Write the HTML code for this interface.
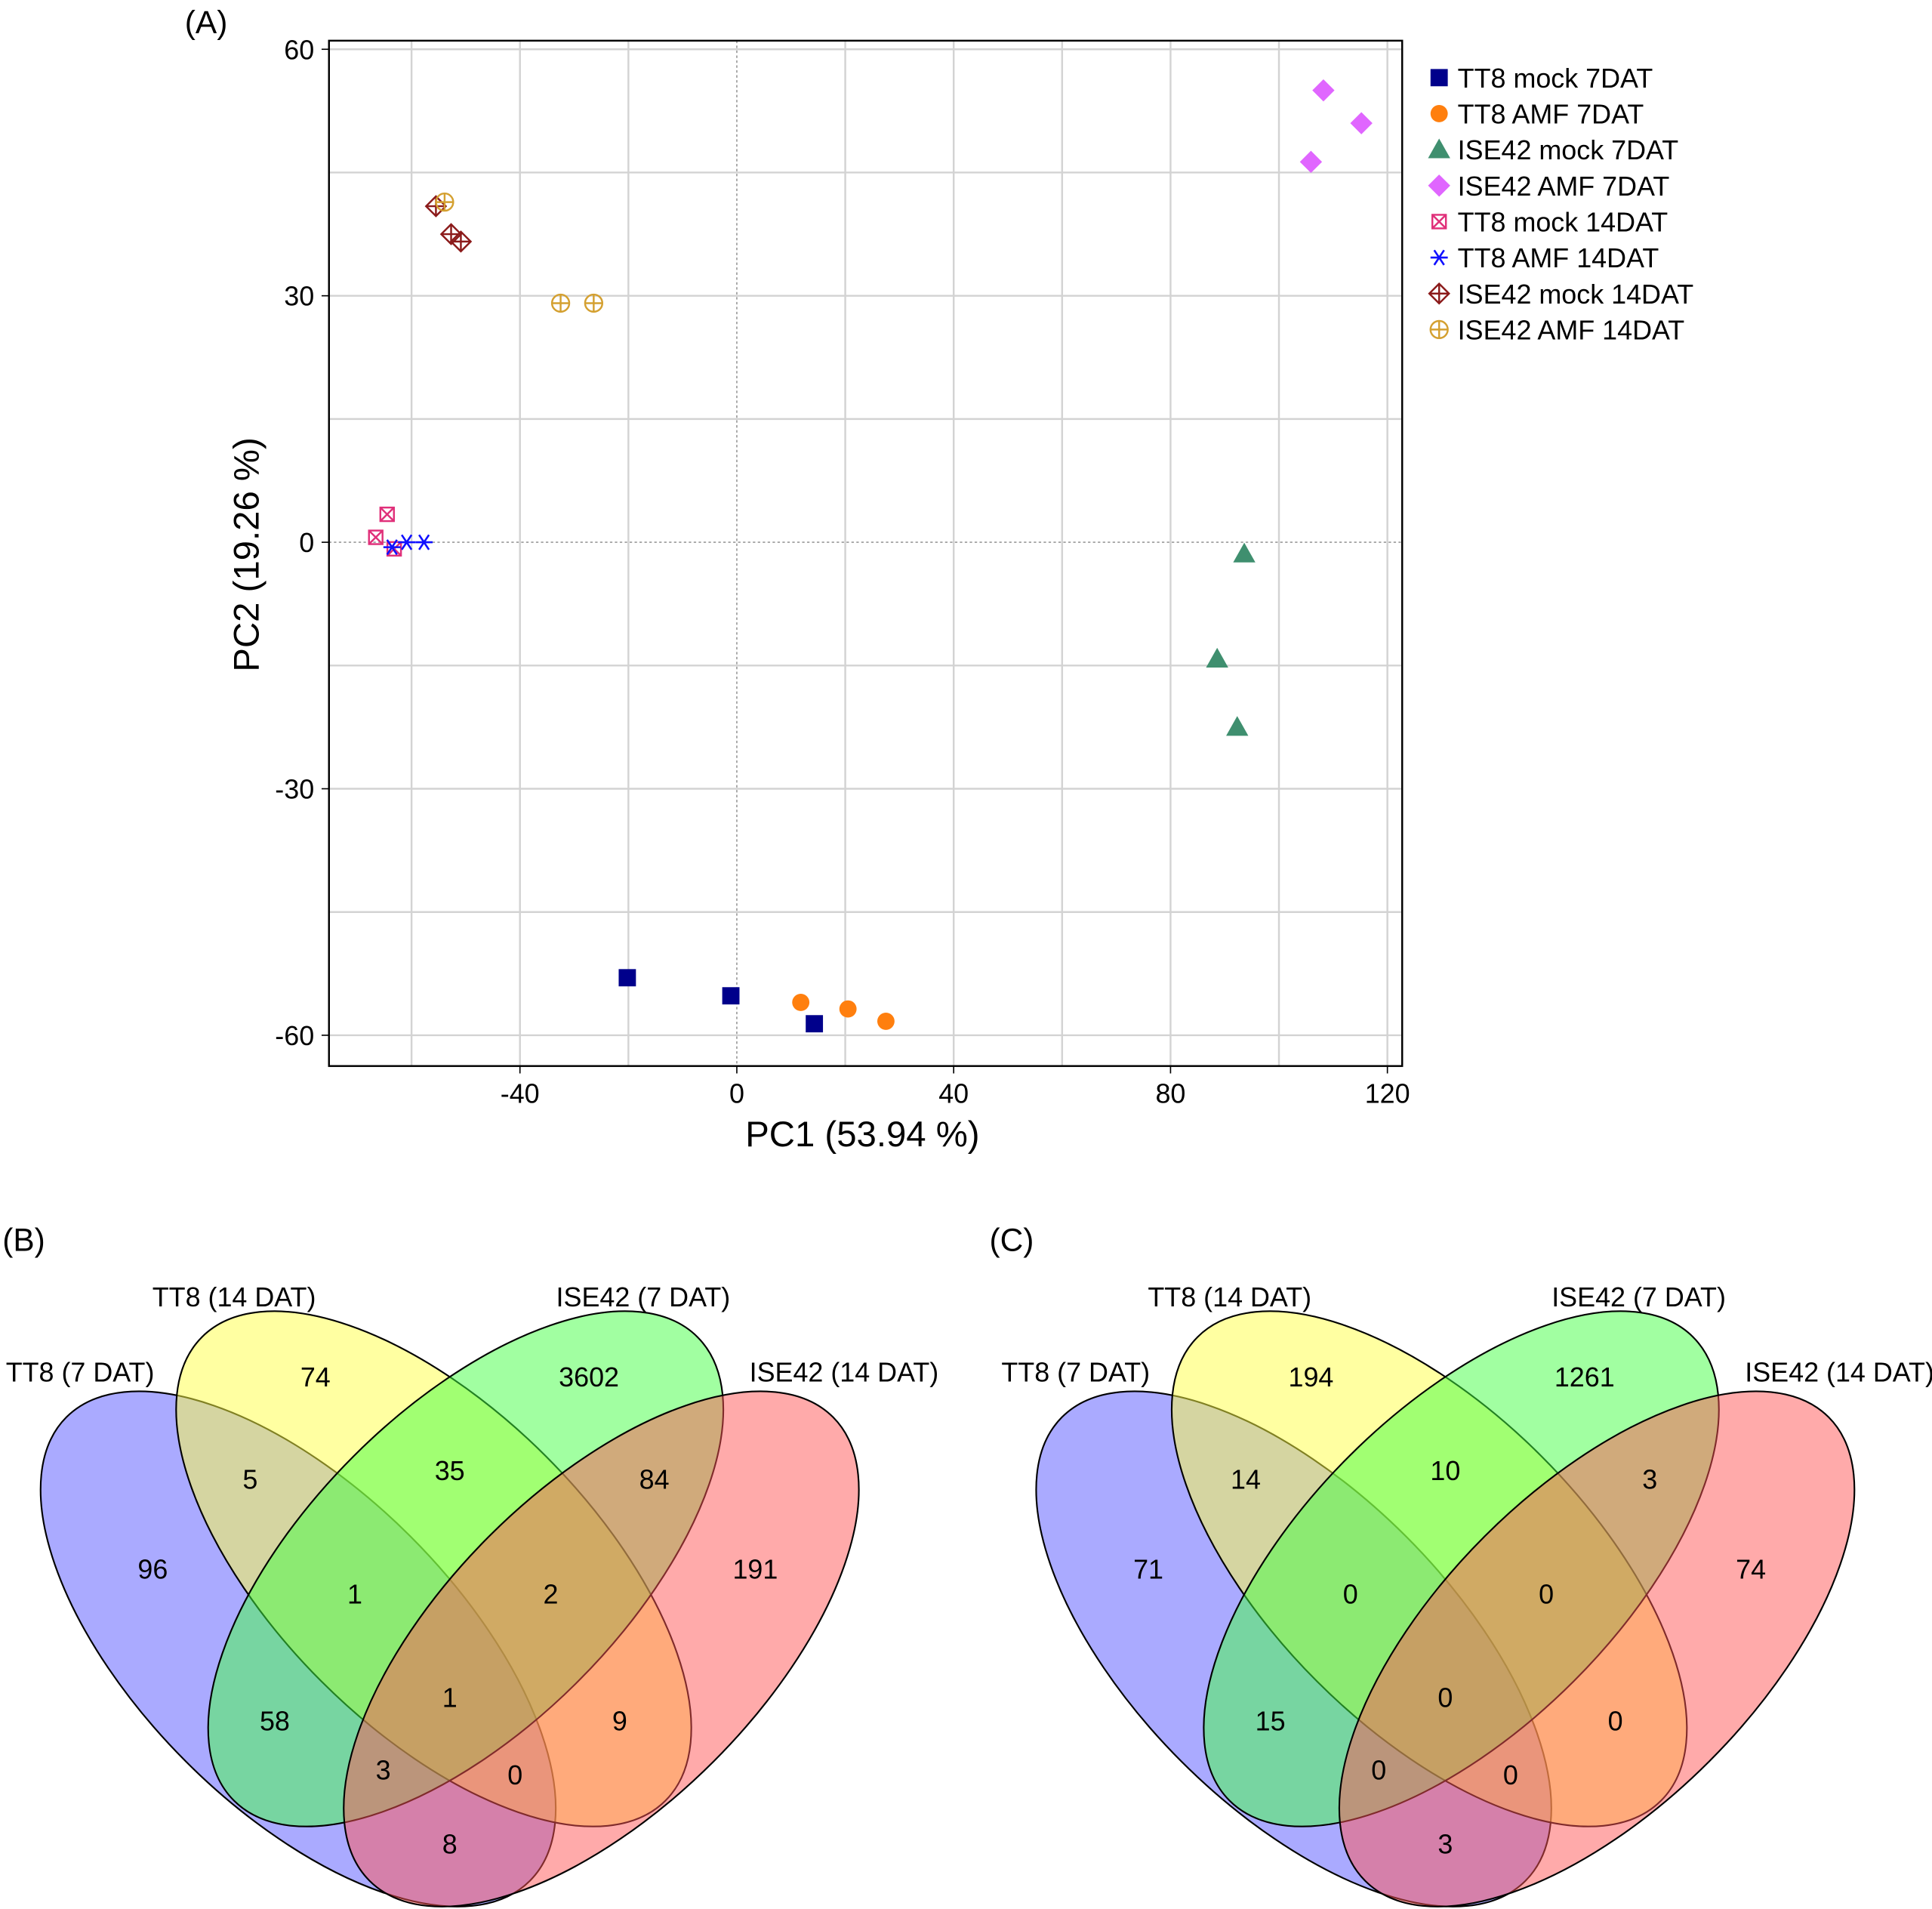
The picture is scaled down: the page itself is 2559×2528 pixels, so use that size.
<!DOCTYPE html>
<html><head><meta charset="utf-8"><style>
html,body{margin:0;padding:0;background:#fff;}
svg{display:block;font-family:"Liberation Sans",sans-serif;}
</style></head><body>
<svg id="s" width="2559" height="2528" viewBox="0 0 1568 1549" xmlns="http://www.w3.org/2000/svg">
<g id="pca"></g>
<g id="venns"></g>
</svg>
<script>
// PCA data
const xTicks = [-40, 0, 40, 80, 120];
const yTicks = [60, 30, 0, -30, -60];
const groupNames = ["TT8 mock 7DAT","TT8 AMF 7DAT","ISE42 mock 7DAT","ISE42 AMF 7DAT","TT8 mock 14DAT","TT8 AMF 14DAT","ISE42 mock 14DAT","ISE42 AMF 14DAT"];
const groupColors = ["#00008b","#ff7f0e","#3f8f6f","#e066ff","#e0307a","#1010ff","#8b1a1a","#d4a030"];
const groupShapes = ["square","circle","triangle","diamond","boxx","star","diamondplus","circleplus"];
const pc1 = [[-20.2,-1.1,14.3],[11.8,20.5,27.5],[93.6,88.6,92.3],[108.2,115.2,105.9],[-64.5,-66.6,-63.2],[-63.6,-60.9,-57.7],[-55.5,-52.7,-50.9],[-53.9,-32.5,-26.4]];
const pc2 = [[-53,-55.2,-58.6],[-56,-56.8,-58.3],[-1.4,-14.2,-22.5],[55,51,46.3],[3.4,0.6,-0.8],[-0.6,0,0],[40.9,37.5,36.6],[41.4,29.1,29.1]];
// Venn data
const vennB = [96,74,3602,191,5,35,84,1,2,58,1,9,3,0,8];
const vennC = [71,194,1261,74,14,10,3,0,0,15,0,0,0,0,3];
const setLabels = ["TT8 (7 DAT)","TT8 (14 DAT)","ISE42 (7 DAT)","ISE42 (14 DAT)"];

const NS="http://www.w3.org/2000/svg";
function mk(p,tag,at){const e=document.createElementNS(NS,tag);for(const k in at)e.setAttribute(k,at[k]);p.appendChild(e);return e;}
const X0=267,X1=1138,Y0=33,Y1=865;
const sx=v=>598+v*4.4, sy=v=>440-v*6.667;
const pca=document.getElementById('pca');
mk(pca,'rect',{x:X0,y:Y0,width:X1-X0,height:Y1-Y0,fill:'#fff',stroke:'none'});
for(let v=-60;v<=120;v+=20){if(v===0)continue;const l=mk(pca,'line',{x1:sx(v),x2:sx(v),y1:Y0,y2:Y1,stroke:'#d3d3d3','stroke-width':1.5});

}
for(let v=-60;v<=60;v+=15){if(v===0)continue;const l=mk(pca,'line',{x1:X0,x2:X1,y1:sy(v),y2:sy(v),stroke:'#d3d3d3','stroke-width':1.5});

}
mk(pca,'line',{x1:sx(0),x2:sx(0),y1:Y0,y2:Y1,stroke:'#999','stroke-width':1,'stroke-dasharray':'2,2'});
mk(pca,'line',{x1:X0,x2:X1,y1:sy(0),y2:sy(0),stroke:'#999','stroke-width':1,'stroke-dasharray':'2,2'});
let fr=mk(pca,'rect',{x:X0,y:Y0,width:X1-X0,height:Y1-Y0,fill:'none',stroke:'#000','stroke-width':1.5});


xTicks.forEach(v=>{mk(pca,'line',{x1:sx(v),x2:sx(v),y1:Y1,y2:Y1+6,stroke:'#000'});
const t=mk(pca,'text',{x:sx(v),y:Y1+30,'text-anchor':'middle','font-size':22});t.textContent=v;

});
yTicks.forEach(v=>{mk(pca,'line',{x1:X0-6,x2:X0,y1:sy(v),y2:sy(v),stroke:'#000'});
const t=mk(pca,'text',{x:X0-12,y:sy(v)+8,'text-anchor':'end','font-size':22});t.textContent=v;

});
let xt=mk(pca,'text',{x:700,y:930,'text-anchor':'middle','font-size':29});xt.textContent='PC1 (53.94 %)';


let yt=mk(pca,'text',{x:0,y:0,'text-anchor':'middle','font-size':29,transform:'translate(210,450) rotate(-90)'});yt.textContent='PC2 (19.26 %)';


let pa=mk(pca,'text',{x:150,y:27,'font-size':26});pa.textContent='(A)';



function marker(p,shape,x,y,c){
 const g=mk(p,'g',{});const s=7;
 if(shape==='square')mk(g,'rect',{x:x-s,y:y-s,width:2*s,height:2*s,fill:c});
 else if(shape==='circle')mk(g,'circle',{cx:x,cy:y,r:s,fill:c});
 else if(shape==='triangle')mk(g,'polygon',{points:`${x},${y-9} ${x+9},${y+7} ${x-9},${y+7}`,fill:c});
 else if(shape==='diamond')mk(g,'polygon',{points:`${x},${y-9} ${x+9},${y} ${x},${y+9} ${x-9},${y}`,fill:c});
 else if(shape==='boxx'){mk(g,'rect',{x:x-5.5,y:y-5.5,width:11,height:11,fill:'none',stroke:c,'stroke-width':1.5});mk(g,'path',{d:`M${x-5.5},${y-5.5}L${x+5.5},${y+5.5}M${x+5.5},${y-5.5}L${x-5.5},${y+5.5}`,stroke:c,'stroke-width':1.5});}
 else if(shape==='star'){mk(g,'path',{d:`M${x-7},${y}L${x+7},${y}M${x-4},${y-6}L${x+4},${y+6}M${x+4},${y-6}L${x-4},${y+6}`,stroke:c,'stroke-width':1.6});}
 else if(shape==='diamondplus'){mk(g,'polygon',{points:`${x},${y-8} ${x+8},${y} ${x},${y+8} ${x-8},${y}`,fill:'none',stroke:c,'stroke-width':1.5});mk(g,'path',{d:`M${x-8},${y}L${x+8},${y}M${x},${y-8}L${x},${y+8}`,stroke:c,'stroke-width':1.5});}
 else if(shape==='circleplus'){mk(g,'circle',{cx:x,cy:y,r:7,fill:'none',stroke:c,'stroke-width':1.5});mk(g,'path',{d:`M${x-7},${y}L${x+7},${y}M${x},${y-7}L${x},${y+7}`,stroke:c,'stroke-width':1.5});}
 return g;
}
groupNames.forEach((n,i)=>{
 pc1[i].forEach((v,j)=>{const m=marker(pca,groupShapes[i],sx(v),sy(pc2[i][j]),groupColors[i]);
 
 });
 const ly=63+i*29.2;
 const lm=marker(pca,groupShapes[i],1168,ly,groupColors[i]);
 
 
 const t=mk(pca,'text',{x:1183,y:ly+8,'font-size':22});t.textContent=n;
 
 
});

// Venn
const vg=document.getElementById('venns');
const ell=[{cx:242,cy:1338,a:266,b:129,r:45,c:'#5555ff'},{cx:352,cy:1273,a:266,b:129,r:45,c:'#ffff44'},{cx:378,cy:1273,a:266,b:129,r:-45,c:'#44ff44'},{cx:488,cy:1338,a:266,b:129,r:-45,c:'#ff5555'}];
const numPos=[[124,1273],[256,1117],[478,1117],[613,1273],[203,1200],[365,1193],[531,1200],[288,1293],[447,1293],[223,1396],[365,1377],[503,1396],[311,1436],[418,1440],[365,1496]];
const labPos=[[65,1113],[190,1052],[522,1052],[685,1113]];
function venn(dx,vals,tag){
 const g=mk(vg,'g',{transform:`translate(${dx},0)`});
 
 
 ell.forEach((e,i)=>{const el=mk(g,'ellipse',{cx:e.cx,cy:e.cy,rx:e.a,ry:e.b,transform:`rotate(${e.r} ${e.cx} ${e.cy})`,fill:e.c,'fill-opacity':0.5,stroke:'#000','stroke-width':1.3});
 
 });
 vals.forEach((v,i)=>{const t=mk(g,'text',{x:numPos[i][0],y:numPos[i][1]+8,'text-anchor':'middle','font-size':22});t.textContent=v;
 
 });
 setLabels.forEach((s,i)=>{const t=mk(g,'text',{x:labPos[i][0],y:labPos[i][1]+8,'text-anchor':'middle','font-size':22});t.textContent=s;
 
 });
}
venn(0,vennB,'b');venn(808,vennC,'c');
let pb=mk(vg,'text',{x:2,y:1015,'font-size':26});pb.textContent='(B)';


let pc=mk(vg,'text',{x:803,y:1015,'font-size':26});pc.textContent='(C)';


</script>
</body></html>
